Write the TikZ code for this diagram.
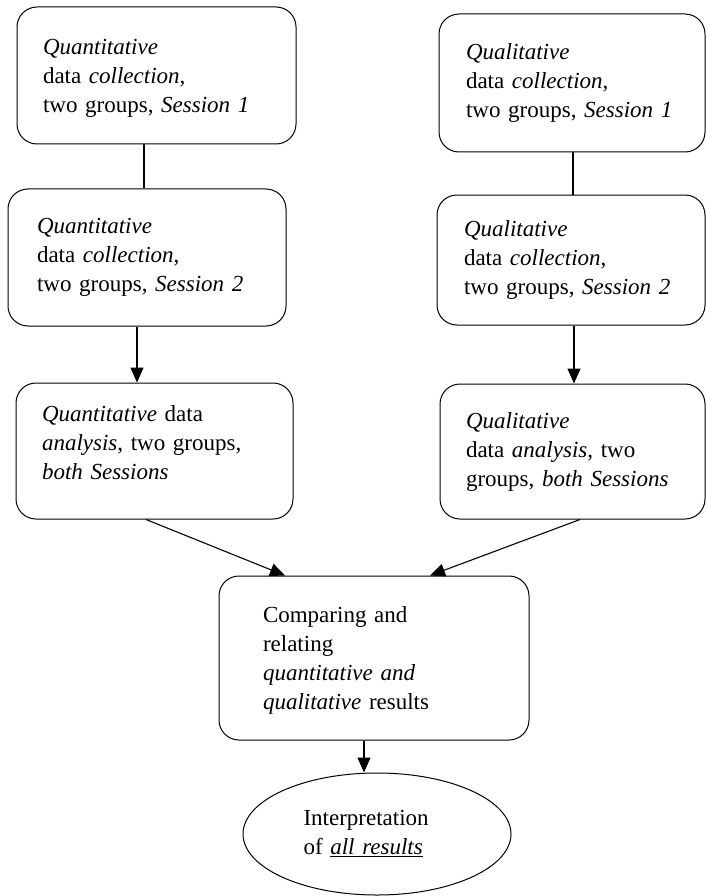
\documentclass[tikz,border=0pt]{standalone}
\usepackage{fontspec}
\setmainfont{Liberation Serif}
\usetikzlibrary{arrows.meta,shapes.geometric}
\begin{document}
\begin{tikzpicture}[x=1pt,y=-1pt,
  box/.style={draw, line width=1pt, rounded corners=20pt, align=left,
    inner ysep=2pt, font=\fontsize{23}{29}\selectfont},
  oval/.style={draw, line width=1pt, ellipse, align=left, inner sep=0pt,
    font=\fontsize{23}{29}\selectfont},
  conn/.style={line width=1.1pt},
  arr/.style={line width=1.1pt, -{Triangle[length=15pt,width=13pt]}}]
\useasboundingbox (0,0) rectangle (706,896);
% left column
\node[box, minimum width=279pt, minimum height=137pt, inner xsep=26pt, text width=227pt, text depth=57pt] (A1) at (156.5,75.5)
  {\textit{Quantitative}\\data \textit{collection},\\two groups, \textit{Session 1}};
\node[box, minimum width=278pt, minimum height=137pt, inner xsep=29pt, text width=220pt] (A2) at (147,257.5)
  {\textit{Quantitative}\\data \textit{collection},\\two groups, \textit{Session 2}};
\node[box, minimum width=277pt, minimum height=136pt, inner xsep=26pt, text width=225pt, text depth=74pt] (A3) at (154.5,451)
  {\textit{Quantitative} data\\\textit{analysis}, two groups,\\\textit{both Sessions}};
% right column
\node[box, minimum width=266pt, minimum height=138pt, inner xsep=27pt, text width=212pt] (B1) at (572,83)
  {\textit{Qualitative}\\data \textit{collection},\\two groups, \textit{Session 1}};
\node[box, minimum width=268pt, minimum height=130pt, inner xsep=27pt, text width=214pt] (B2) at (571,260)
  {\textit{Qualitative}\\data \textit{collection},\\two groups, \textit{Session 2}};
\node[box, minimum width=265pt, minimum height=135pt, inner xsep=26pt, text width=213pt] (B3) at (572.5,451.5)
  {\textit{Qualitative}\\data \textit{analysis}, two\\groups, \textit{both Sessions}};
% bottom
\node[box, minimum width=310pt, minimum height=164pt, inner xsep=44pt, text width=222pt, text depth=86pt] (C) at (374,658)
  {Comparing and\\relating\\\textit{quantitative and}\\\textit{qualitative} results};
\node[oval, minimum width=268pt, minimum height=122pt, text width=147pt] (D) at (377,834)
  {Interpretation\\of \underline{\textit{all results}}};
% helper coordinates
\coordinate (xa) at (144,0);
\coordinate (xb) at (137,0);
\coordinate (xc) at (573,0);
\coordinate (xd) at (574,0);
\coordinate (xe) at (146,0);
\coordinate (xf) at (285,0);
\coordinate (xg) at (580,0);
\coordinate (xh) at (430,0);
\coordinate (xi) at (364,0);
% connectors
\draw[conn] (A1.south -| xa) -- (A2.north -| xa);
\draw[arr] (A2.south -| xb) -- (A3.north -| xb);
\draw[conn] (B1.south -| xc) -- (B2.north -| xc);
\draw[arr] (B2.south -| xd) -- (B3.north -| xd);
\draw[arr] (A3.south -| xe) -- (C.north -| xf);
\draw[arr] (B3.south -| xg) -- (C.north -| xh);
\draw[arr] (C.south -| xi) -- (D.north -| xi);
\end{tikzpicture}
\end{document}
